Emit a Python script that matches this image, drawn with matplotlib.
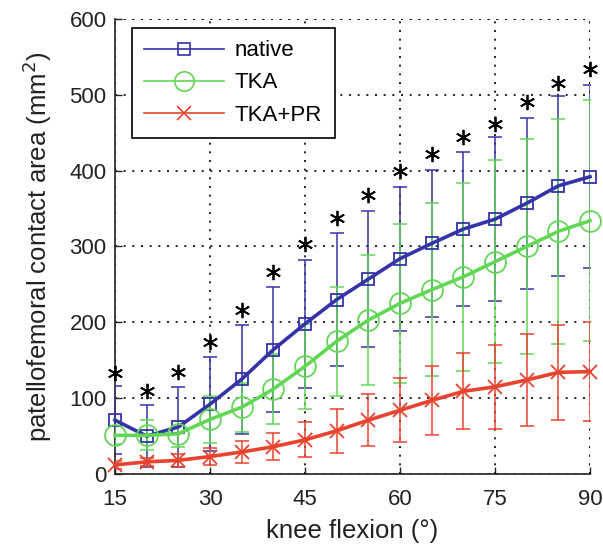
import matplotlib
matplotlib.use("Agg")
import matplotlib.pyplot as plt
from matplotlib.lines import Line2D
import numpy as np

plt.rcParams['font.family'] = ['Liberation Sans', 'DejaVu Sans']

flexion = [15, 20, 25, 30, 35, 40, 45, 50, 55, 60, 65, 70, 75, 80, 85, 90]

native_mean = [71, 50, 62, 92, 125, 164, 198, 230, 257, 284, 304, 323, 336, 357, 380, 392]
native_sd = [45, 41, 53, 62, 72, 82, 84, 88, 90, 95, 97, 102, 108, 113, 119, 121]

tka_mean = [51, 51, 53, 72, 88, 112, 142, 175, 203, 225, 243, 260, 280, 300, 320, 334]
tka_sd = [12, 20, 17, 31, 32, 46, 56, 72, 86, 105, 114, 124, 134, 142, 148, 159]

tkapr_mean = [12, 16, 18, 23, 29, 36, 45, 57, 71, 84, 97, 109, 115, 124, 134, 135]
tkapr_sd = [5, 5, 9, 11, 15, 18, 23, 29, 34, 42, 46, 50, 55, 61, 63, 65]

star_y = [133, 110, 135, 174, 216, 266, 303, 338, 368, 400, 422, 444, 462, 490, 516, 534]

c_native = '#3434A8'
c_tka = '#62D756'
c_pr = '#E8432E'
c_text = '#222222'

fig = plt.figure(figsize=(6.03, 5.52), dpi=100)
ax = fig.add_axes([115/603, 78/552, 475/603, 455/552])

x = np.array(flexion)

def series(mean, sd, color, marker, ms, mfc, mew):
    ax.errorbar(x, mean, yerr=sd, fmt='none', ecolor=color, elinewidth=1.1,
                capsize=5, capthick=1.1, zorder=3)
    ax.plot(x, mean, color=color, lw=2.6, marker=marker, ms=ms, mfc=mfc,
            mec=color, mew=mew, zorder=4, clip_on=False)

series(native_mean, native_sd, c_native, 's', 8, 'none', 1.3)
series(tka_mean, tka_sd, c_tka, 'o', 15, 'none', 1.3)
series(tkapr_mean, tkapr_sd, c_pr, 'x', 10, c_pr, 1.3)

ax.plot(x, star_y, linestyle='none', marker=(6, 2, 0), ms=11, mew=1.3,
        color='black', zorder=5, clip_on=False)

ax.set_xlim(15, 90)
ax.set_ylim(0, 600)
ax.set_xticks([15, 30, 45, 60, 75, 90])
ax.set_yticks([0, 100, 200, 300, 400, 500, 600])
ax.tick_params(direction='in', length=5, width=1, labelsize=16, pad=6, colors=c_text)
ax.tick_params(axis='x', pad=11)

for s in ['top', 'right']:
    ax.spines[s].set_visible(False)
for s in ['left', 'bottom']:
    ax.spines[s].set_linewidth(1.2)
    ax.spines[s].set_color(c_text)

dot = (0, (1.2, 4))
ax.grid(True, color='black', linestyle=dot, linewidth=1.2)
ax.set_axisbelow(True)
ax.axhline(600, color='black', linestyle=dot, linewidth=1.2, zorder=1)
ax.axvline(90, color='black', linestyle=dot, linewidth=1.2, zorder=1)

ax.set_xlabel('knee flexion (°)', fontsize=18.5, color=c_text, labelpad=6)
ax.set_ylabel('patellofemoral contact area (mm$^2$)', fontsize=18.5, color=c_text, labelpad=11)

handles = [
    Line2D([], [], color=c_native, lw=1.2, marker='s', ms=8, mfc='none', mec=c_native, mew=1.2),
    Line2D([], [], color=c_tka, lw=1.2, marker='o', ms=14, mfc='none', mec=c_tka, mew=1.2),
    Line2D([], [], color=c_pr, lw=1.2, marker='x', ms=10, mec=c_pr, mew=1.2),
]
leg = ax.legend(handles, ['native', 'TKA', 'TKA+PR'], loc='upper left',
                bbox_to_anchor=(0.035, 0.98), borderaxespad=0, fancybox=False,
                edgecolor='black', framealpha=1, fontsize=16, handlelength=3.6,
                labelspacing=0.5, borderpad=0.55, handletextpad=0.5)
leg.get_frame().set_linewidth(1.2)
leg.set_zorder(10)

fig.savefig('out.png', dpi=100)
